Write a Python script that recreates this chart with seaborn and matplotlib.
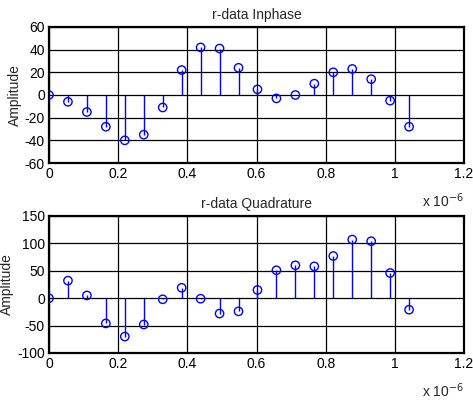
import numpy as np
import pandas as pd
import matplotlib
matplotlib.use("Agg")
import matplotlib.pyplot as plt
import seaborn as sns

time_us = [0.0, 0.0548, 0.1096, 0.1644, 0.2192, 0.2740, 0.3288, 0.3836, 0.4384, 0.4932,
           0.5480, 0.6028, 0.6576, 0.7124, 0.7672, 0.8220, 0.8768, 0.9316, 0.9864, 1.0412]
inphase = [0, -6, -15, -28, -40, -35, -11, 22, 42, 41,
           24, 5, -3, 0, 10, 20, 23, 14, -5, -28]
quadrature = [0, 32, 5, -46, -70, -48, -2, 19, -1, -28,
              -24, 15, 51, 60, 58, 77, 107, 104, 46, -21]

sns.set_style("white")
plt.rcParams['font.family'] = ['Liberation Sans', 'DejaVu Sans']

fig = plt.figure(figsize=(4.73, 4.0), dpi=100)
W, H = 473, 400
ax1 = fig.add_axes([49 / W, 1 - 163 / H, 415 / W, 136 / H])
ax2 = fig.add_axes([49 / W, 1 - 353 / H, 415 / W, 137 / H])

panels = [
    (ax1, inphase, "r-data Inphase", (-60, 60), [-60, -40, -20, 0, 20, 40, 60]),
    (ax2, quadrature, "r-data Quadrature", (-100, 150), [-100, -50, 0, 50, 100, 150]),
]
blue = "#0000ff"
fs = 10
for ax, vals, title, ylim, yticks in panels:
    df = pd.DataFrame({"t": time_us, "v": vals})
    ax.grid(True, color="black", linewidth=0.9)
    ax.set_axisbelow(True)
    ax.vlines(df["t"], 0, df["v"], color=blue, linewidth=1.0, zorder=3)
    sns.scatterplot(data=df, x="t", y="v", ax=ax, marker="o", s=36,
                    facecolors="none", edgecolor=blue, linewidth=1.0, zorder=4)
    ax.set_xlim(0, 1.2)
    ax.set_ylim(*ylim)
    ax.set_xticks([0, 0.2, 0.4, 0.6, 0.8, 1.0, 1.2])
    ax.set_xticklabels(["0", "0.2", "0.4", "0.6", "0.8", "1", "1.2"])
    ax.set_yticks(yticks)
    ax.set_yticklabels([str(y) for y in yticks])
    ax.tick_params(axis="both", labelsize=fs, length=3, direction="in", colors="black", pad=3)
    ax.set_xlabel("")
    ax.set_ylabel("Amplitude", fontsize=fs, labelpad=2)
    ax.set_title(title, fontsize=fs, pad=6)
    for sp in ax.spines.values():
        sp.set_color("black")
        sp.set_linewidth(1.6)
    ax.text(1.0, -0.21, r"x 10$^{-6}$", transform=ax.transAxes, ha="right", va="top", fontsize=fs)

fig.savefig("out.png", dpi=100)
